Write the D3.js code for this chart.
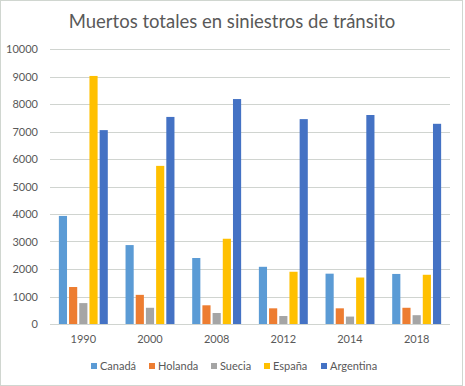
<!DOCTYPE html>
<html>
<head>
<meta charset="utf-8">
<script src="https://cdn.jsdelivr.net/npm/d3@7"></script>
<style>
  body { margin: 0; background: white; }
  text { font-family: Lato, "Open Sans", sans-serif; }
</style>
</head>
<body>
<div id="my_viz"></div>
<script>
var width = 465,
    height = 386;

var years = ["1990", "2000", "2008", "2012", "2014", "2018"];
var countries = ["Canadá", "Holanda", "Suecia", "España", "Argentina"];
var canada = [3930, 2870, 2400, 2080, 1830, 1820];
var holanda = [1345, 1060, 680, 570, 570, 590];
var suecia = [760, 590, 400, 290, 270, 320];
var espana = [9020, 5750, 3100, 1900, 1690, 1790];
var argentina = [7050, 7530, 8180, 7450, 7600, 7280];
var yTicks = [0, 1000, 2000, 3000, 4000, 5000, 6000, 7000, 8000, 9000, 10000];

var series = [canada, holanda, suecia, espana, argentina];
var colors = d3.scaleOrdinal()
    .domain(countries)
    .range(["#5B9BD5", "#ED7D31", "#A5A5A5", "#FFC000", "#4472C4"]);

var margin = { left: 50, right: 15, top: 49, bottom: 62 };

var svg = d3.select("#my_viz")
    .append("svg")
    .attr("width", width)
    .attr("height", height);

svg.append("rect")
    .attr("x", 0.5).attr("y", 0.5)
    .attr("width", 462).attr("height", 385)
    .attr("fill", "white")
    .attr("stroke", "#d0d6d0");

svg.append("text")
    .attr("x", 232)
    .attr("y", 28)
    .attr("text-anchor", "middle")
    .attr("font-size", 18.5)
    .attr("fill", "#595959")
    .text("Muertos totales en siniestros de tránsito");

var x0 = d3.scaleBand()
    .domain(years)
    .range([margin.left, width - margin.right]);

var x1 = d3.scaleBand()
    .domain(countries)
    .range([0, x0.bandwidth()])
    .paddingInner(0.2)
    .paddingOuter(0.87);

var y = d3.scaleLinear()
    .domain([0, 10000])
    .range([height - margin.bottom, margin.top]);

// gridlines
svg.append("g")
    .selectAll("line")
    .data(yTicks)
    .enter().append("line")
    .attr("x1", margin.left)
    .attr("x2", width - margin.right)
    .attr("y1", function (d) { return Math.round(y(d)) + 0.5; })
    .attr("y2", function (d) { return Math.round(y(d)) + 0.5; })
    .attr("stroke", "#d0d4d0")
    .attr("stroke-width", 1);

// y labels
svg.append("g")
    .selectAll("text")
    .data(yTicks)
    .enter().append("text")
    .attr("x", 38)
    .attr("y", function (d) { return y(d) + 4; })
    .attr("text-anchor", "end")
    .attr("font-size", 11)
    .attr("fill", "#595959")
    .text(function (d) { return d; });

// bars
var groups = svg.append("g")
    .selectAll("g")
    .data(years)
    .enter().append("g")
    .attr("transform", function (d) { return "translate(" + x0(d) + ",0)"; });

groups.selectAll("rect")
    .data(function (d, i) {
        return countries.map(function (c, j) { return { country: c, value: series[j][i] }; });
    })
    .enter().append("rect")
    .attr("x", function (d) { return x1(d.country); })
    .attr("width", x1.bandwidth())
    .attr("y", function (d) { return y(d.value); })
    .attr("height", function (d) { return y(0) - y(d.value); })
    .attr("fill", function (d) { return colors(d.country); });

// x labels
svg.append("g")
    .selectAll("text")
    .data(years)
    .enter().append("text")
    .attr("x", function (d) { return x0(d) + x0.bandwidth() / 2; })
    .attr("y", 343)
    .attr("text-anchor", "middle")
    .attr("font-size", 11)
    .attr("fill", "#595959")
    .text(function (d) { return d; });

// legend
var legendX = [91, 149, 211, 264, 321];
var legend = svg.append("g")
    .selectAll("g")
    .data(countries)
    .enter().append("g")
    .attr("transform", function (d, i) { return "translate(" + legendX[i] + ",366)"; });

legend.append("rect")
    .attr("x", 0).attr("y", -3)
    .attr("width", 6).attr("height", 6)
    .attr("fill", function (d) { return colors(d); });

legend.append("text")
    .attr("x", 9)
    .attr("y", 4)
    .attr("font-size", 11)
    .attr("fill", "#595959")
    .text(function (d) { return d; });
</script>
</body>
</html>
